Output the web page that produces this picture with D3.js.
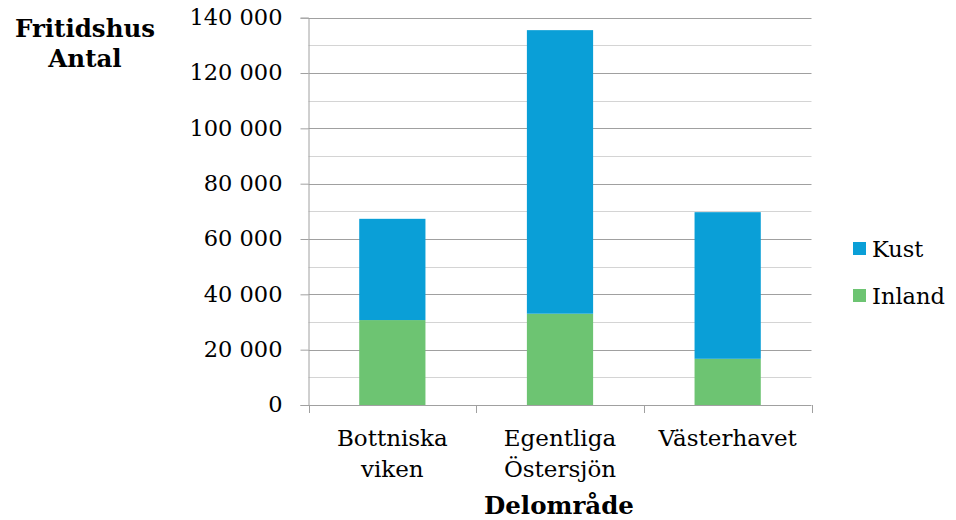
<!DOCTYPE html>
<html>
<head>
<meta charset="utf-8">
<script src="https://cdn.jsdelivr.net/npm/d3@7"></script>
<style>
  body { margin: 0; background: #fff; }
  svg { display: block; }
  text { font-family: "DejaVu Serif", serif; fill: #000; }
</style>
</head>
<body>
<svg id="chart" width="956" height="520"></svg>
<script>
const categories = [["Bottniska", "viken"], ["Egentliga", "Östersjön"], ["Västerhavet"]];
const inland = [30700, 33000, 16700];
const kust = [36600, 102500, 53000];
const seriesNames = ["Kust", "Inland"];
const yTicks = [0, 20000, 40000, 60000, 80000, 100000, 120000, 140000];
const yMinorTicks = [10000, 30000, 50000, 70000, 90000, 110000, 130000];
const colors = { Kust: "#0a9fd7", Inland: "#6dc472" };

const svg = d3.select("#chart");
const pLeft = 308.5, pRight = 811.5, pTop = 17.7, pBottom = 405;

const x = d3.scaleBand().domain(categories.map(d => d.join(" "))).range([pLeft, pRight]).paddingInner(0.605).paddingOuter(0.3025);
const y = d3.scaleLinear().domain([0, 140000]).range([pBottom, pTop]);

const fmt = v => d3.format(",")(v).replace(/,/g, " ");

// minor gridlines
svg.append("g").selectAll("line").data(yMinorTicks).join("line")
  .attr("x1", pLeft).attr("x2", pRight)
  .attr("y1", d => Math.round(y(d)) + 0.5).attr("y2", d => Math.round(y(d)) + 0.5)
  .attr("stroke", "#d4d4d4").attr("stroke-width", 1);

// major gridlines
svg.append("g").selectAll("line").data(yTicks.filter(d => d > 0)).join("line")
  .attr("x1", pLeft).attr("x2", pRight)
  .attr("y1", d => Math.round(y(d)) + 0.5).attr("y2", d => Math.round(y(d)) + 0.5)
  .attr("stroke", "#a0a0a0").attr("stroke-width", 1);

// bars
const stackData = categories.map((c, i) => ({ key: c.join(" "), Inland: inland[i], Kust: kust[i] }));
const stack = d3.stack().keys(["Inland", "Kust"])(stackData);
svg.append("g").selectAll("g").data(stack).join("g")
  .attr("fill", d => colors[d.key])
  .selectAll("rect").data(d => d).join("rect")
  .attr("x", d => x(d.data.key))
  .attr("width", x.bandwidth())
  .attr("y", d => y(d[1]))
  .attr("height", d => y(d[0]) - y(d[1]));

// y axis
const yAxis = d3.axisLeft(y).tickValues(yTicks).tickSize(8).tickFormat(fmt).tickPadding(18);
const gy = svg.append("g").attr("transform", `translate(${pLeft},0)`).call(yAxis);
gy.select(".domain").attr("stroke", "#a0a0a0");
gy.selectAll(".tick line").attr("stroke", "#a0a0a0");
gy.selectAll(".tick text").attr("font-size", 22.5).attr("font-family", "DejaVu Serif").attr("fill", "#000").attr("dy", "0.3em");

// x axis
const xAxisLine = svg.append("g");
xAxisLine.append("line").attr("x1", pLeft).attr("x2", pRight).attr("y1", pBottom + 0.5).attr("y2", pBottom + 0.5).attr("stroke", "#a0a0a0");
const boundaries = [pLeft, ...categories.map(c => x(c.join(" ")) + x.bandwidth() / 2 + x.step() / 2)];
xAxisLine.selectAll("line.t").data(boundaries).join("line").attr("class", "t")
  .attr("x1", d => Math.round(d) + 0.5).attr("x2", d => Math.round(d) + 0.5)
  .attr("y1", pBottom).attr("y2", pBottom + 8).attr("stroke", "#a0a0a0");

const labels = svg.append("g").selectAll("text").data(categories).join("text")
  .attr("x", d => x(d.join(" ")) + x.bandwidth() / 2)
  .attr("y", 446)
  .attr("text-anchor", "middle")
  .attr("font-size", 23);
labels.selectAll("tspan").data(d => d).join("tspan")
  .attr("x", function() { return d3.select(this.parentNode).attr("x"); })
  .attr("dy", (d, i) => i === 0 ? 0 : 31)
  .text(d => d);

// axis titles
svg.append("text").attr("x", 559).attr("y", 514).attr("text-anchor", "middle")
  .attr("font-weight", "bold").attr("font-size", 24.5).text("Delområde");
const yt = svg.append("text").attr("x", 85).attr("y", 37).attr("text-anchor", "middle")
  .attr("font-weight", "bold").attr("font-size", 24.5);
yt.append("tspan").attr("x", 85).text("Fritidshus");
yt.append("tspan").attr("x", 85).attr("dy", 30).text("Antal");

// legend
const legend = svg.append("g").selectAll("g").data(seriesNames).join("g")
  .attr("transform", (d, i) => `translate(853, ${242 + i * 47})`);
legend.append("rect").attr("width", 13).attr("height", 13).attr("fill", d => colors[d]);
legend.append("text").attr("x", 19).attr("y", 15).attr("font-size", 22.5).text(d => d);
</script>
</body>
</html>
